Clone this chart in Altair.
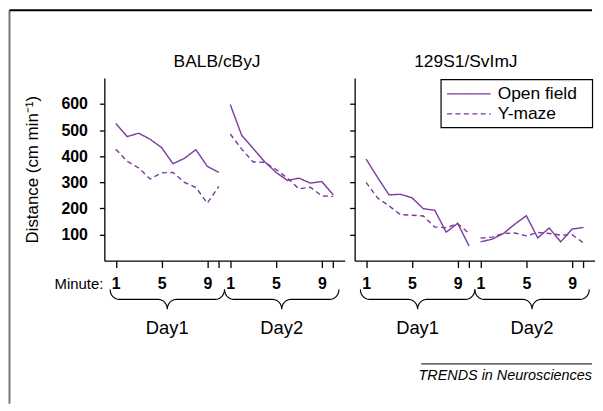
import math
import altair as alt
import pandas as pd

# ---------------- data ----------------
minutes = list(range(1, 11))
strains = ["BALB/cByJ", "129S1/SvImJ"]
tests = ["Open field", "Y-maze"]
days = ["Day1", "Day2"]

balb_open_day1 = [525, 475, 488, 465, 433, 371, 392, 425, 361, 338]
balb_ymaze_day1 = [427, 380, 355, 313, 336, 338, 300, 280, 220, 284]
balb_open_day2 = [598, 480, 430, 379, 338, 307, 316, 297, 303, 252]
balb_ymaze_day2 = [485, 427, 378, 377, 349, 316, 275, 281, 248, 246]
s129_open_day1 = [389, 319, 252, 254, 241, 199, 193, 109, 143, 56]
s129_ymaze_day1 = [300, 240, 210, 176, 174, 171, 129, 126, 142, 104]
s129_open_day2 = [72, 82, 104, 140, 172, 87, 125, 72, 121, 127]
s129_ymaze_day2 = [86, 90, 104, 106, 95, 108, 104, 98, 99, 68]

y_ticks = [100, 200, 300, 400, 500, 600]
x_ticks = [1, 5, 9, 10, 11, 15, 19, 20]

series = {
    ("BALB/cByJ", "Open field", 1): balb_open_day1,
    ("BALB/cByJ", "Y-maze", 1): balb_ymaze_day1,
    ("BALB/cByJ", "Open field", 2): balb_open_day2,
    ("BALB/cByJ", "Y-maze", 2): balb_ymaze_day2,
    ("129S1/SvImJ", "Open field", 1): s129_open_day1,
    ("129S1/SvImJ", "Y-maze", 1): s129_ymaze_day1,
    ("129S1/SvImJ", "Open field", 2): s129_open_day2,
    ("129S1/SvImJ", "Y-maze", 2): s129_ymaze_day2,
}

rows = []
for (strain, test, day), vals in series.items():
    for m, v in zip(minutes, vals):
        rows.append({"strain": strain, "test": test, "series": f"{test}-{day}",
                     "pos": m + 10 * (day - 1), "value": v})
df = pd.DataFrame(rows)

# ---------------- geometry ----------------
W, H = 242, 184
XMAX, YMAX = 21, 700
PXX = W / XMAX
PXY = H / YMAX
PURPLE = "#7a3b9c"
FONT = "Liberation Sans"


def xd(px):
    return px / PXX


def yd(px_below_axis):
    return -px_below_axis / PXY


def ytop(px_below_top):
    return YMAX - px_below_top / PXY


xscale = alt.Scale(domain=[0, XMAX], nice=False, zero=False)
yscale = alt.Scale(domain=[0, YMAX], nice=False)
dash_scale = alt.Scale(domain=tests, range=[[1, 0], [5, 3.5]])


def brace_df(a, b, bid):
    w = (b - a) * PXX
    half = w / 2
    r = 9
    pts = []
    for k in range(0, 7):
        t = math.radians(15 * k)
        pts.append((r * (1 - math.cos(t)), 29 + 10 * math.sin(t)))
    for k in range(0, 7):
        t = math.radians(15 * k)
        pts.append((half - r + r * math.sin(t), 39 + 10 * (1 - math.cos(t))))
    full = pts + [(w - x, y) for (x, y) in reversed(pts)]
    return pd.DataFrame([{"pos": a + xd(x), "value": yd(y), "brace": bid, "i": i}
                         for i, (x, y) in enumerate(full)])


def panel(strain, left, title_center_px):
    d = df[df.strain == strain]
    xaxis = alt.Axis(values=x_ticks, title=None, grid=False, tickSize=7,
                     labelPadding=8, labelFontSize=16, labelFontWeight="bold",
                     labelFont=FONT, labelColor="black", labelOverlap=False,
                     labelFlush=False, labelSeparation=0,
                     labelExpr="datum.value == 10 || datum.value == 20 ? '' : '' + (datum.value > 10 ? datum.value - 10 : datum.value)")
    if left:
        yaxis = alt.Axis(values=y_ticks, title="Distance (cm min⁻¹)", grid=False,
                         tickSize=5, labelPadding=12, labelFontSize=16,
                         labelFontWeight="bold", labelFont=FONT, labelColor="black",
                         labelOverlap=False, labelSeparation=0,
                         titleFont=FONT, titleFontSize=17, titleFontWeight="normal",
                         titleColor="black", titlePadding=20)
    else:
        yaxis = alt.Axis(values=y_ticks, title=None, labels=False, grid=False, tickSize=5)

    X = alt.X("pos:Q", scale=xscale, axis=xaxis)
    Y = alt.Y("value:Q", scale=yscale, axis=yaxis)

    lines = alt.Chart(d).mark_line(color=PURPLE, strokeWidth=1.4).encode(
        x=X, y=Y,
        strokeDash=alt.StrokeDash("test:N", scale=dash_scale, legend=None),
        detail="series:N",
    )

    braces = pd.concat([brace_df(0.5, 10.5, "d1"), brace_df(10.5, 20.5, "d2")])
    brace_layer = alt.Chart(braces).mark_line(color="black", strokeWidth=1.1).encode(
        x=X, y=Y, detail="brace:N", order="i:Q")

    day_df = pd.DataFrame({"pos": [5.5, 15.5], "value": [yd(68), yd(68)], "label": days})
    day_layer = alt.Chart(day_df).mark_text(font=FONT, fontSize=18.5, color="black",
                                            baseline="middle", align="center").encode(
        x=X, y=Y, text="label:N")

    title_df = pd.DataFrame({"pos": [xd(title_center_px)], "value": [ytop(-16)],
                             "label": [strain]})
    title_layer = alt.Chart(title_df).mark_text(font=FONT, fontSize=17.5, color="black",
                                                baseline="middle", align="center").encode(
        x=X, y=Y, text="label:N")

    layers = [lines, brace_layer, day_layer, title_layer]

    if left:
        min_df = pd.DataFrame({"pos": [0], "value": [yd(24)], "label": ["Minute:"]})
        layers.append(alt.Chart(min_df).mark_text(font=FONT, fontSize=15, color="black",
                                                  align="right", baseline="middle", dx=-1).encode(
            x=X, y=Y, text="label:N"))
        frame = pd.DataFrame({
            "pos": [xd(-95.5), xd(-95.5)],
            "pos2": [xd(-95.5), xd(491)],
            "value": [ytop(-68), ytop(-68)],
            "value2": [yd(144), ytop(-68)],
            "c": ["#777777", "black"],
        })
        layers.append(alt.Chart(frame).mark_rule(strokeWidth=2).encode(
            x=X, x2="pos2:Q", y=Y, y2="value2:Q",
            color=alt.Color("c:N", scale=None)))
    else:
        foot_line = pd.DataFrame({"pos": [xd(67)], "pos2": [xd(239)],
                                  "value": [yd(104)]})
        layers.append(alt.Chart(foot_line).mark_rule(color="black", strokeWidth=1).encode(
            x=X, x2="pos2:Q", y=Y))
        foot = pd.DataFrame({"pos": [xd(239)], "value": [yd(116.5)],
                             "label": ["TRENDS in Neurosciences"]})
        layers.append(alt.Chart(foot).mark_text(font=FONT, fontSize=14.5, fontStyle="italic",
                                                color="black", align="right",
                                                baseline="middle").encode(
            x=X, y=Y, text="label:N"))
        # legend box drawn inside the panel
        box = pd.DataFrame({"pos": [xd(87)], "pos2": [xd(239.5)],
                            "value": [ytop(1.7)], "value2": [ytop(50)]})
        layers.append(alt.Chart(box).mark_rect(fill="white", stroke="black",
                                               strokeWidth=1.2).encode(
            x=X, x2="pos2:Q", y=Y, y2="value2:Q"))
        leg = pd.DataFrame({"test": tests,
                            "pos": [xd(93)] * 2, "pos2": [xd(137)] * 2,
                            "tpos": [xd(144)] * 2,
                            "value": [ytop(16.2), ytop(36.2)]})
        layers.append(alt.Chart(leg).mark_rule(color=PURPLE, strokeWidth=1.3).encode(
            x=X, x2="pos2:Q", y=Y,
            strokeDash=alt.StrokeDash("test:N", scale=dash_scale, legend=None)))
        layers.append(alt.Chart(leg).mark_text(font=FONT, fontSize=17.5, color="black",
                                               align="left", baseline="middle").encode(
            x=alt.X("tpos:Q", scale=xscale, axis=xaxis), y=Y, text="test:N"))

    return alt.layer(*layers).properties(width=W, height=H)


chart = alt.hconcat(panel(strains[0], True, 113.5), panel(strains[1], False, 112),
                    spacing=10, bounds="flush").properties(
    padding=0).configure_view(stroke=None).configure_axis(
    domainColor="black", tickColor="black", domainWidth=1.3, tickWidth=1.3,
    labelOverlap=False)

chart.save("out.html", embed_options={"renderer": "svg", "actions": False})
